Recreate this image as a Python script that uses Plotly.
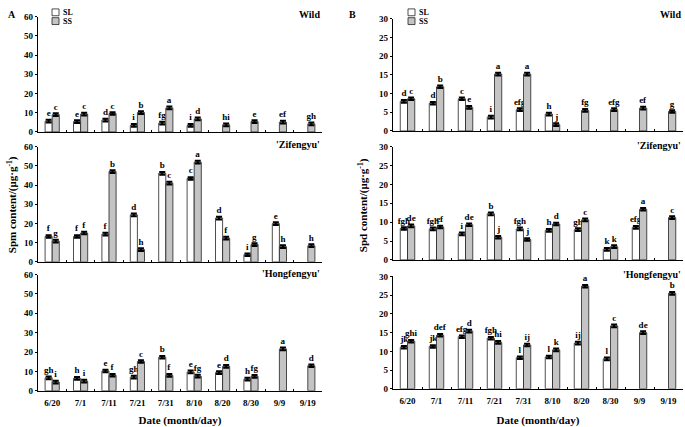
import plotly.graph_objects as go

dates = ["6/20", "7/1", "7/11", "7/21", "7/31", "8/10", "8/20", "8/30", "9/9", "9/19"]

# Panel A: Spm content (µg/g)
spm_wild_sl = [5.6, 5.4, 6.2, 3.4, 4.6, 3.4, None, None, None, None]
spm_wild_ss = [9.0, 9.3, 9.6, 10.1, 12.5, 6.8, 3.7, 5.4, 5.1, 4.2]
spm_wild_sl_lab = ["e", "e", "d", "i", "fg", "i", None, None, None, None]
spm_wild_ss_lab = ["c", "c", "c", "b", "a", "d", "hi", "e", "ef", "gh"]

spm_zif_sl = [13.2, 13.2, 14.4, 24.5, 46.1, 43.4, 22.8, 3.7, 19.9, None]
spm_zif_ss = [10.8, 15.0, 47.0, 6.4, 41.0, 51.9, 12.3, 9.0, 7.9, 8.4]
spm_zif_sl_lab = ["f", "f", "f", "d", "b", "c", "d", "i", "e", None]
spm_zif_ss_lab = ["g", "f", "b", "h", "c", "a", "f", "g", "h", "h"]

spm_hong_sl = [6.7, 6.4, 10.2, 7.0, 17.3, 9.7, 9.4, 6.0, None, None]
spm_hong_ss = [4.5, 5.0, 8.0, 15.1, 7.9, 7.5, 12.6, 7.4, 21.6, 12.9]
spm_hong_sl_lab = ["gh", "h", "e", "gh", "b", "e", "e", "h", None, None]
spm_hong_ss_lab = ["i", "i", "f", "c", "f", "fg", "d", "fg", "a", "d"]

# Panel B: Spd content (µg/g)
spd_wild_sl = [7.9, 7.4, 8.6, 3.7, 5.7, 4.5, None, None, None, None]
spd_wild_ss = [8.6, 11.8, 6.3, 15.2, 15.2, 1.7, 5.5, 5.7, 6.1, 5.2]
spd_wild_sl_lab = ["d", "d", "c", "i", "efg", "h", None, None, None, None]
spd_wild_ss_lab = ["c", "b", "e", "a", "a", "j", "fg", "efg", "ef", "g"]

spd_zif_sl = [8.3, 8.2, 6.9, 12.2, 8.2, 7.8, 8.0, 2.8, 8.6, None]
spd_zif_ss = [9.0, 8.7, 9.3, 6.0, 5.4, 9.5, 10.6, 3.5, 13.4, 11.2]
spd_zif_sl_lab = ["fgh", "fgh", "i", "b", "fgh", "h", "gh", "k", "efg", None]
spd_zif_ss_lab = ["de", "ef", "de", "j", "j", "d", "c", "k", "a", "c"]

spd_hong_sl = [11.1, 11.3, 13.9, 13.5, 8.3, 8.5, 12.2, 8.0, None, None]
spd_hong_ss = [12.7, 14.3, 15.4, 12.4, 11.7, 10.4, 27.4, 16.8, 15.0, 25.5]
spd_hong_sl_lab = ["jk", "jk", "efg", "fgh", "l", "l", "ij", "l", None, None]
spd_hong_ss_lab = ["ghi", "def", "d", "hi", "ij", "k", "a", "c", "de", "b"]

spm_err = 0.7
spd_err = 0.35

series_names = ["SL", "SS"]
series_colors = ["white", "#c4c4c4"]

FONT = "Liberation Serif, Times New Roman, serif"

panels = [
    (spm_wild_sl, spm_wild_ss, spm_wild_sl_lab, spm_wild_ss_lab, "Wild", 0, 0, 60, 10, spm_err),
    (spm_zif_sl, spm_zif_ss, spm_zif_sl_lab, spm_zif_ss_lab, "'Zifengyu'", 0, 1, 60, 10, spm_err),
    (spm_hong_sl, spm_hong_ss, spm_hong_sl_lab, spm_hong_ss_lab, "'Hongfengyu'", 0, 2, 60, 10, spm_err),
    (spd_wild_sl, spd_wild_ss, spd_wild_sl_lab, spd_wild_ss_lab, "Wild", 1, 0, 30, 5, spd_err),
    (spd_zif_sl, spd_zif_ss, spd_zif_sl_lab, spd_zif_ss_lab, "'Zifengyu'", 1, 1, 30, 5, spd_err),
    (spd_hong_sl, spd_hong_ss, spd_hong_sl_lab, spd_hong_ss_lab, "'Hongfengyu'", 1, 2, 30, 5, spd_err),
]

W, H = 685, 427
def px(x):
    return x / W
def py(y):
    return 1 - y / H

xdom_px = [[38, 322], [393, 683]]
ydom_px = [
    [[130, 12], [263, 145], [395, 276]],
    [[129, 14], [261, 145], [393, 278]],
]
title_dy = [[2, 2, 1.5], [4, 1, 2]]

fig = go.Figure()
layout = {}
annotations = []
shapes = []

for i, (sl, ss, sll, ssl, title, col, row, ymax, dtick, err) in enumerate(panels):
    k = i + 1
    xa = "x" if k == 1 else f"x{k}"
    ya = "y" if k == 1 else f"y{k}"
    for vals, labs, name, color in ((sl, sll, series_names[0], series_colors[0]),
                                    (ss, ssl, series_names[1], series_colors[1])):
        fig.add_trace(go.Bar(
            x=dates, y=vals, name=name, xaxis=xa, yaxis=ya,
            marker=dict(color=color, line=dict(color="#222", width=0.8)),
            error_y=dict(type="constant", value=err, color="black", thickness=2, width=3),
            text=labs, textposition="outside", constraintext="none", cliponaxis=False,
            textfont=dict(family=FONT, size=9, color="black", weight="bold"),
            showlegend=False, offsetgroup=name,
        ))
    xkey = "xaxis" if k == 1 else f"xaxis{k}"
    ykey = "yaxis" if k == 1 else f"yaxis{k}"
    bottom = row == 2
    xd = xdom_px[col]
    yd = ydom_px[col][row]
    layout[xkey] = dict(
        domain=[px(xd[0]), px(xd[1])], anchor=ya, type="category",
        showline=True, linecolor="black", linewidth=1.2,
        tickson="boundaries", ticks="inside", ticklen=2, tickcolor="black",
        showticklabels=bottom, showgrid=False, zeroline=False,
        ticklabelstandoff=3,
        tickfont=dict(family=FONT, size=9, color="black", weight="bold"),
    )
    if bottom:
        layout[xkey]["title"] = dict(
            text="Date (month/day)",
            font=dict(family=FONT, size=11, color="black", weight="bold"), standoff=11)
    layout[ykey] = dict(
        domain=[py(yd[0]), py(yd[1])], anchor=xa, range=[0, ymax], dtick=dtick,
        showline=True, linecolor="black", linewidth=1.2,
        ticks="outside", ticklen=2, tickcolor="black",
        showgrid=False, zeroline=False,
        tickfont=dict(family=FONT, size=9, color="black", weight="bold"),
    )
    annotations.append(dict(
        text=title, xref="paper", yref="paper",
        x=px(xd[1]), y=py(yd[1] - title_dy[col][row]), xanchor="right", yanchor="middle",
        showarrow=False, font=dict(family=FONT, size=10, color="black", weight="bold"),
    ))

# Legend boxes (top panels)
for lx in (52, 408):
    for j, (name, color) in enumerate(zip(series_names, series_colors)):
        top = 4 + j * 9
        shapes.append(dict(type="rect", xref="paper", yref="paper",
                           x0=px(lx), x1=px(lx + 7), y0=py(top + 7), y1=py(top),
                           fillcolor=color, line=dict(color="#222", width=0.8)))
        annotations.append(dict(text=name, xref="paper", yref="paper",
                                x=px(lx + 9), y=py(top + 3.5), xanchor="left", yanchor="middle",
                                showarrow=False,
                                font=dict(family=FONT, size=8, color="black", weight="bold")))

annotations += [
    dict(text="A", xref="paper", yref="paper", x=px(6), y=py(2), xanchor="left", yanchor="top",
         showarrow=False, font=dict(family=FONT, size=10, color="black", weight="bold")),
    dict(text="B", xref="paper", yref="paper", x=px(347), y=py(2), xanchor="left", yanchor="top",
         showarrow=False, font=dict(family=FONT, size=10, color="black", weight="bold")),
    dict(text="Spm content/(μg·g<sup>-1</sup>)", xref="paper", yref="paper", x=px(12), y=py(205),
         textangle=-90, xanchor="center", yanchor="middle", showarrow=False,
         font=dict(family=FONT, size=11, color="black", weight="bold")),
    dict(text="Spd content/(μg·g<sup>-1</sup>)", xref="paper", yref="paper", x=px(363), y=py(205),
         textangle=-90, xanchor="center", yanchor="middle", showarrow=False,
         font=dict(family=FONT, size=11, color="black", weight="bold")),
]

fig.update_layout(
    **layout,
    annotations=annotations,
    shapes=shapes,
    barmode="group", bargap=0.5, bargroupgap=0.0,
    width=W, height=H,
    margin=dict(l=0, r=0, t=0, b=0),
    plot_bgcolor="white", paper_bgcolor="white",
    showlegend=False,
)

fig.write_html("out.html", config={"displayModeBar": False})
with open("out.html", "r", encoding="utf-8") as f:
    html = f.read()
html = html.replace("<body>", '<body style="margin:0;padding:0;overflow:hidden">', 1)
with open("out.html", "w", encoding="utf-8") as f:
    f.write(html)
